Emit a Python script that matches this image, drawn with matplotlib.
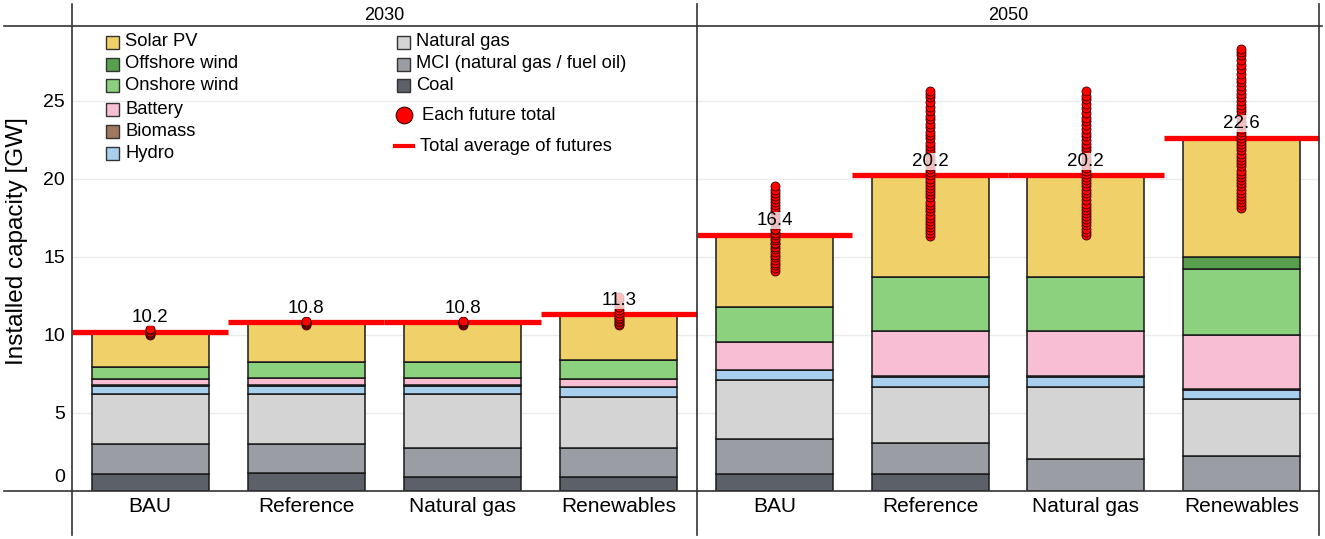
import matplotlib
matplotlib.use("Agg")
import matplotlib.pyplot as plt
from matplotlib.patches import Rectangle
from matplotlib.lines import Line2D

plt.rcParams['font.family'] = ['Liberation Sans', 'DejaVu Sans']

# ---------------- data ----------------
years = ["2030", "2050"]
scenarios = ["BAU", "Reference", "Natural gas", "Renewables"]

# order: 2030 BAU, Ref, NG, Ren, 2050 BAU, Ref, NG, Ren
coal = [1.12, 1.16, 0.90, 0.90, 1.12, 1.12, 0.00, 0.00]
mci = [1.88, 1.84, 1.88, 1.88, 2.18, 1.97, 2.02, 2.25]
natural_gas = [3.19, 3.19, 3.41, 3.22, 3.82, 3.56, 4.63, 3.63]
hydro = [0.55, 0.55, 0.55, 0.63, 0.60, 0.64, 0.64, 0.59]
biomass = [0.05, 0.05, 0.05, 0.05, 0.05, 0.05, 0.05, 0.05]
battery = [0.38, 0.43, 0.43, 0.47, 1.76, 2.90, 2.90, 3.48]
onshore = [0.80, 1.02, 1.02, 1.24, 2.27, 3.43, 3.43, 4.20]
offshore = [0.00, 0.00, 0.00, 0.00, 0.00, 0.00, 0.00, 0.76]
solar = [2.23, 2.56, 2.56, 2.91, 4.60, 6.53, 6.53, 7.64]

averages = [10.2, 10.8, 10.8, 11.3, 16.4, 20.2, 20.2, 22.6]

futures_2030_bau = [10.0, 10.05, 10.1, 10.15, 10.2, 10.3, 10.4]
futures_2030_ref = [10.65, 10.7, 10.75, 10.8, 10.85, 10.9]
futures_2030_ng = [10.65, 10.7, 10.75, 10.8, 10.85, 10.9]
futures_2030_ren = [10.6, 10.7, 10.8, 10.9, 11.0, 11.1, 11.2, 11.4, 11.6, 11.8, 12.0, 12.2, 12.4]
futures_2050_bau = [14.1, 14.3, 14.5, 14.6, 14.8, 15.0, 15.1, 15.3, 15.5, 15.6, 15.8, 15.9,
                    16.1, 16.2, 16.4, 16.5, 16.7, 16.8, 17.0, 17.2, 17.3, 17.5, 17.7, 17.9,
                    18.1, 18.3, 18.5, 18.7, 18.9, 19.1, 19.3, 19.5]
futures_2050_ref = [16.3, 16.5, 16.7, 16.9, 17.1, 17.3, 17.5, 17.7, 17.9, 18.1, 18.3, 18.5,
                    18.8, 19.0, 19.2, 19.4, 19.6, 19.8, 20.0, 20.2, 20.4, 20.6, 20.8, 21.0,
                    21.2, 21.4, 21.7, 21.9, 22.1, 22.3, 22.6, 22.8, 23.0, 23.3, 23.5, 23.8,
                    24.0, 24.3, 24.6, 24.9, 25.2, 25.4, 25.6]
futures_2050_ng = [16.4, 16.6, 16.8, 17.0, 17.2, 17.4, 17.6, 17.8, 18.0, 18.2, 18.4, 18.6,
                   18.9, 19.1, 19.3, 19.5, 19.7, 19.9, 20.1, 20.3, 20.5, 20.7, 20.9, 21.1,
                   21.3, 21.6, 21.8, 22.0, 22.2, 22.5, 22.7, 22.9, 23.2, 23.4, 23.7, 23.9,
                   24.2, 24.5, 24.8, 25.1, 25.3, 25.6]
futures_2050_ren = [18.1, 18.3, 18.5, 18.7, 18.9, 19.1, 19.3, 19.5, 19.7, 19.9, 20.1, 20.3,
                    20.5, 20.8, 21.0, 21.2, 21.4, 21.6, 21.8, 22.0, 22.2, 22.4, 22.6, 22.8,
                    23.0, 23.2, 23.4, 23.6, 23.9, 24.1, 24.3, 24.5, 24.7, 25.0, 25.2, 25.4,
                    25.7, 25.9, 26.2, 26.4, 26.7, 27.0, 27.3, 27.6, 27.9, 28.1, 28.3]

futures = [futures_2030_bau, futures_2030_ref, futures_2030_ng, futures_2030_ren,
           futures_2050_bau, futures_2050_ref, futures_2050_ng, futures_2050_ren]

y_ticks = [0, 5, 10, 15, 20, 25]

# stacking order bottom -> top
stack = [
    ("Coal", coal, "#5c6068"),
    ("MCI (natural gas / fuel oil)", mci, "#9a9ea4"),
    ("Natural gas", natural_gas, "#d4d4d4"),
    ("Hydro", hydro, "#a8d0ee"),
    ("Biomass", biomass, "#a0785f"),
    ("Battery", battery, "#f8bfd4"),
    ("Onshore wind", onshore, "#8cd27e"),
    ("Offshore wind", offshore, "#58a04e"),
    ("Solar PV", solar, "#f0d068"),
]
colors = {name: c for name, _, c in stack}

# ---------------- figure ----------------
W, H = 1325, 539
fig = plt.figure(figsize=(W / 100, H / 100), dpi=100)


def fx(px):
    return px / W


def fy(py):
    return 1 - py / H


LEFT, MID, RIGHT, TOP, BOT = 72, 697, 1319, 26, 491
YMAX = (BOT - TOP) / 15.62

ax1 = fig.add_axes([fx(LEFT), fy(BOT), fx(MID) - fx(LEFT), (BOT - TOP) / H])
ax2 = fig.add_axes([fx(MID), fy(BOT), fx(RIGHT) - fx(MID), (BOT - TOP) / H])

for p, ax in enumerate([ax1, ax2]):
    idx = list(range(p * 4, p * 4 + 4))
    x = list(range(4))
    bottom = [0.0] * 4
    for name, vals, col in stack:
        v = [vals[i] for i in idx]
        ax.bar(x, v, 0.75, bottom=bottom, color=col, edgecolor="#1a1a1a",
               linewidth=1.1, zorder=2)
        bottom = [b + vv for b, vv in zip(bottom, v)]
    for k, i in enumerate(idx):
        ax.hlines(averages[i], k - 0.5, k + 0.5, color="#ff0000", linewidth=3.8,
                  zorder=3, clip_on=False)
        ax.scatter([k] * len(futures[i]), futures[i], s=42, color="#ff0000",
                   edgecolor="#3a0000", linewidth=0.6, zorder=4)
        ax.annotate(f"{averages[i]:.1f}", xy=(k, averages[i]), xytext=(0, 4),
                    textcoords="offset points", ha="center", va="bottom",
                    fontsize=13.5, zorder=6,
                    bbox=dict(boxstyle="square,pad=0.0", facecolor="white",
                              edgecolor="none", alpha=0.75))
    ax.set_xlim(-0.5, 3.5)
    ax.set_ylim(0, YMAX)
    ax.set_xticks(x)
    ax.set_xticklabels(scenarios, fontsize=15)
    ax.tick_params(axis="x", length=0, pad=4)
    ax.set_yticks(y_ticks)
    ax.grid(axis="y", color="#ececec", linewidth=1.0, zorder=0)
    ax.set_axisbelow(True)
    for s in ax.spines.values():
        s.set_visible(False)
    ax.patch.set_alpha(0)

ax1.set_yticklabels([""] + [str(t) for t in y_ticks[1:]], fontsize=14)
ax1.tick_params(axis="y", length=0, pad=5)
ax1.annotate(str(y_ticks[0]), xy=(0, 0), xycoords=("axes fraction", "data"),
             xytext=(-7, 14), textcoords="offset pixels", ha="right", va="center",
             fontsize=14)
ax2.tick_params(axis="y", length=0, labelleft=False)

fig.text(fx(17), fy(241), "Installed capacity [GW]", rotation=90, ha="center",
         va="center", fontsize=17.5)

# strip titles
fig.text(fx((LEFT + MID) / 2), fy(15), years[0], ha="center", va="center", fontsize=13)
fig.text(fx((MID + RIGHT) / 2), fy(15), years[1], ha="center", va="center", fontsize=13)

# frame lines
lc = "#333333"
for xs, ys in [((4, 1322), (TOP, TOP)), ((4, RIGHT), (BOT, BOT)),
               ((LEFT, LEFT), (4, 535)), ((MID, MID), (4, 535)), ((RIGHT, RIGHT), (4, 535))]:
    fig.add_artist(Line2D([fx(xs[0]), fx(xs[1])], [fy(ys[0]), fy(ys[1])],
                          transform=fig.transFigure, color=lc, linewidth=1.2))

# legend (manual)
leg_fs = 13.2
col1 = ["Solar PV", "Offshore wind", "Onshore wind", "Battery", "Biomass", "Hydro"]
col1_y = [42, 64, 86, 109, 131, 154]
col2 = ["Natural gas", "MCI (natural gas / fuel oil)", "Coal"]
col2_y = [42, 64, 86]


def legend_patch(px, py, color):
    fig.add_artist(Rectangle((fx(px), fy(py + 6.5)), 13 / W, 13 / H,
                             transform=fig.transFigure, facecolor=color,
                             edgecolor="#333333", linewidth=1.0))


for name, yy in zip(col1, col1_y):
    legend_patch(106, yy, colors[name])
    fig.text(fx(125), fy(yy), name, ha="left", va="center", fontsize=leg_fs)
for name, yy in zip(col2, col2_y):
    legend_patch(397, yy, colors[name])
    fig.text(fx(416), fy(yy), name, ha="left", va="center", fontsize=leg_fs)

fig.add_artist(Line2D([fx(404)], [fy(115)], transform=fig.transFigure, marker="o",
                      markersize=12, markerfacecolor="#ff0000",
                      markeredgecolor="#3a0000", markeredgewidth=0.8, linestyle="none"))
fig.text(fx(422), fy(115), "Each future total", ha="left", va="center", fontsize=leg_fs)
fig.add_artist(Line2D([fx(395), fx(413)], [fy(146), fy(146)], transform=fig.transFigure,
                      color="#ff0000", linewidth=3))
fig.text(fx(420), fy(146), "Total average of futures", ha="left", va="center",
         fontsize=leg_fs)

fig.savefig("out.png", dpi=100)
